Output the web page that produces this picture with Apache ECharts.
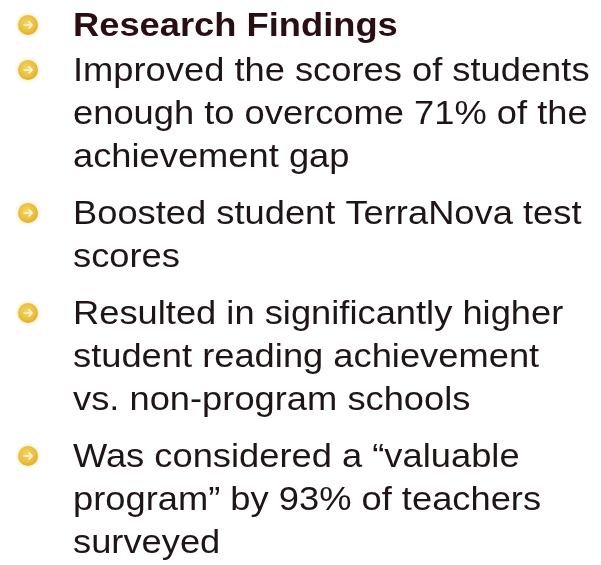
<!DOCTYPE html>
<html>
<head>
<meta charset="utf-8">
<script src="https://cdn.jsdelivr.net/npm/echarts@6/dist/echarts.min.js"></script>
<style>
html,body{margin:0;padding:0;background:#ffffff;}
#chart{width:601px;height:565px;}
</style>
</head>
<body>
<div id="chart"></div>
<script>
// Slide content
var heading = "Research Findings";
var bullet1 = ["Improved the scores of students", "enough to overcome 71% of the", "achievement gap"];
var bullet2 = ["Boosted student TerraNova test", "scores"];
var bullet3 = ["Resulted in significantly higher", "student reading achievement", "vs. non-program schools"];
var bullet4 = ["Was considered a \u201cvaluable", "program\u201d by 93% of teachers", "surveyed"];
var paragraphs = [[heading], bullet1, bullet2, bullet3, bullet4];

var chart = echarts.init(document.getElementById('chart'), null, {renderer: 'canvas'});

var textX = 73, firstBaseline = 37, headGap = 45, lineGap = 43, paraGap = 57;
var fontSize = 33, stretch = 1.10, ascentOffset = 27;
var elements = [];
var y = firstBaseline;
paragraphs.forEach(function (lines, pi) {
  if (pi === 1) y += headGap;
  else if (pi > 1) y += paraGap;
  // bullet icon
  var cy = y - 12, cx = 28;
  elements.push({
    type: 'circle',
    shape: {cx: cx, cy: cy, r: 10},
    style: {
      fill: {
        type: 'radial', x: 0.45, y: 0.42, r: 0.62,
        colorStops: [{offset: 0, color: '#f5d766'}, {offset: 0.65, color: '#eabf3c'}, {offset: 1, color: '#dcaa2c'}]
      },
      shadowBlur: 4, shadowColor: 'rgba(230,190,60,0.5)'
    }
  });
  elements.push({
    type: 'polyline',
    shape: {points: [[cx - 4.5, cy], [cx + 4, cy]]},
    style: {stroke: 'rgba(255,255,255,0.85)', lineWidth: 1.5, fill: null}
  });
  elements.push({
    type: 'polyline',
    shape: {points: [[cx + 0.5, cy - 3.5], [cx + 4.2, cy], [cx + 0.5, cy + 3.5]]},
    style: {stroke: 'rgba(255,255,255,0.85)', lineWidth: 1.5, fill: null}
  });
  lines.forEach(function (t, li) {
    if (li > 0) y += lineGap;
    elements.push({
      type: 'text',
      x: textX, y: y - ascentOffset,
      scaleX: stretch,
      style: {
        x: 0, y: 0,
        text: t,
        font: (pi === 0 ? 'bold ' : '') + fontSize + 'px "Liberation Sans", Arial, sans-serif',
        fill: pi === 0 ? '#2a0e14' : '#1f1516',
        align: 'left',
        verticalAlign: 'top'
      }
    });
  });
});

chart.setOption({
  backgroundColor: '#ffffff',
  animation: false,
  graphic: {elements: elements}
});
</script>
</body>
</html>
